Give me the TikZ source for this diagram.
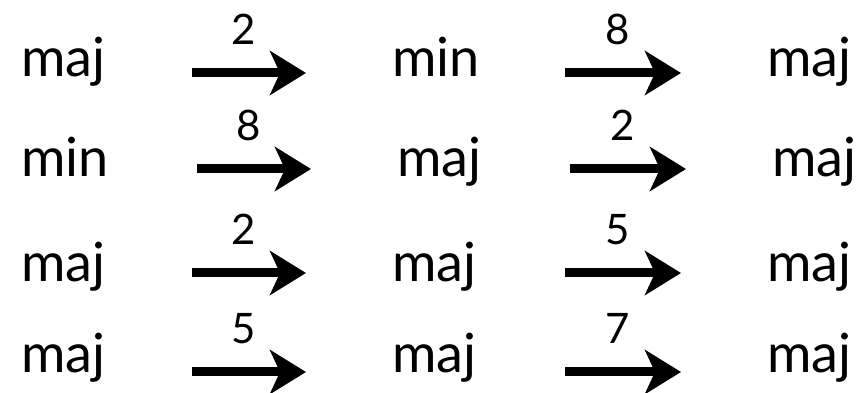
\documentclass[tikz,border=0pt]{standalone}
\usepackage{fontspec}
\setmainfont{Lato}
\usetikzlibrary{arrows.meta}

\begin{document}
\begin{tikzpicture}[x=1pt, y=1pt,
		chord/.style={anchor=base west, inner sep=0pt, font=\fontsize{54pt}{54pt}\selectfont},
		link/.style={-{Stealth[length=36pt, width=44pt, inset=10pt]}, draw, line width=9pt},
		num/.style={above=24pt, inner sep=0pt, pos=0.45, font=\fontsize{42pt}{42pt}\selectfont}
	]

	\useasboundingbox (0,0) rectangle (862,393);

	\foreach \i/\y/\dx/\ay/\ca/\cb/\cc/\la/\lb in {1/316/0/4/maj/min/maj/2/8,
			2/216/5/8/min/maj/maj/8/2, 3/111/0/9/maj/maj/maj/2/5, 4/20/0/1/maj/maj/maj/5/7}{
		\node[chord] at (21, \y) (l\i) {\ca};
		\node[chord] at (392+\dx, \y) (m\i) {\cb};
		\node[chord] at (767+\dx, \y) (r\i) {\cc};
		\draw[link] ([shift={(171+\dx,\ay)}]l\i.base west) -- node[num] {\la}
			([shift={(-86,\ay)}]m\i.base west);
		\draw[link] ([shift={(173,\ay)}]m\i.base west) -- node[num] {\lb}
			([shift={(-86,\ay)}]r\i.base west);
	}

\end{tikzpicture}
\end{document}
